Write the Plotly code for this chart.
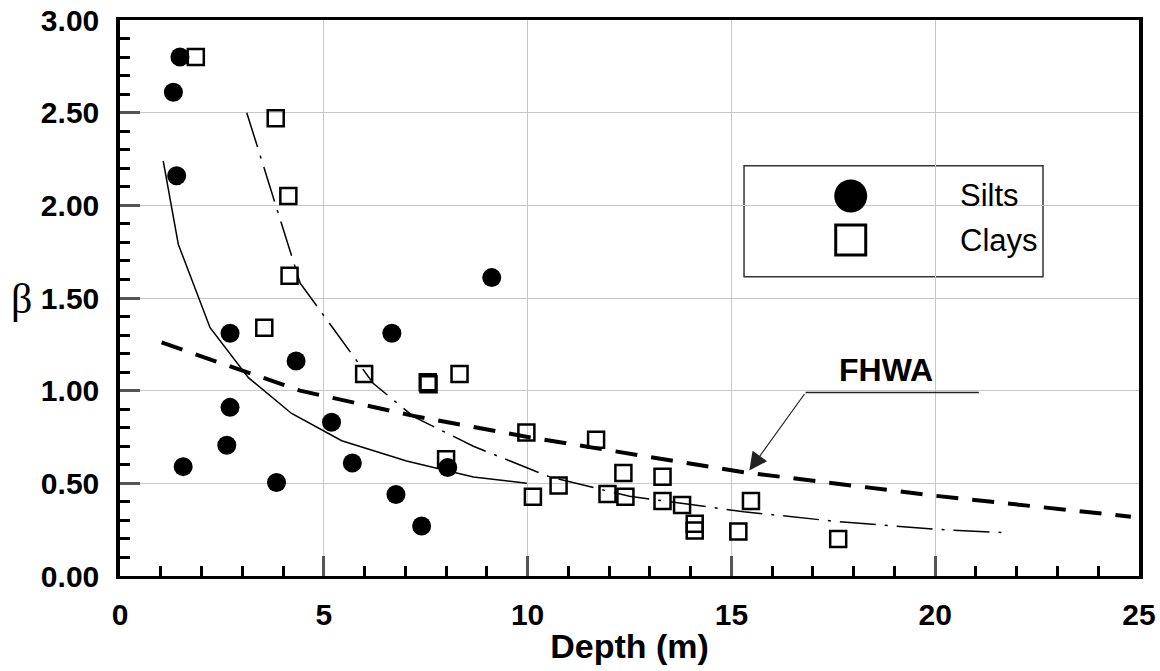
import plotly.graph_objects as go

# ---- data ----
silts_depth = [1.47, 1.31, 1.39, 2.70, 4.32, 6.67, 9.12, 2.70, 5.19, 2.62, 1.55, 5.70, 3.84, 6.77, 8.04, 7.40]
silts_beta = [2.80, 2.61, 2.16, 1.31, 1.16, 1.31, 1.61, 0.91, 0.83, 0.705, 0.59, 0.61, 0.505, 0.44, 0.585, 0.27]

clays_depth = [1.86, 3.82, 4.13, 4.16, 3.54, 5.99, 7.55, 7.57, 8.33, 8.00, 9.97, 10.13, 10.76,
               11.68, 11.96, 12.35, 12.40, 13.31, 13.31, 13.79, 14.10, 14.10, 15.17, 15.48, 17.62]
clays_beta = [2.80, 2.47, 2.05, 1.62, 1.34, 1.09, 1.045, 1.035, 1.09, 0.63, 0.774, 0.428, 0.488,
              0.735, 0.442, 0.556, 0.427, 0.536, 0.405, 0.383, 0.282, 0.245, 0.240, 0.405, 0.20]

silt_fit_depth = [1.06, 1.43, 2.21, 3.15, 4.21, 5.44, 7.03, 8.67, 9.98]
silt_fit_beta = [2.24, 1.79, 1.34, 1.07, 0.877, 0.73, 0.62, 0.534, 0.50]

clay_fit_depth = [3.11, 4.42, 6.21, 7.20, 8.67, 10.55, 12.50, 15.30, 17.50, 20.00, 21.80]
clay_fit_beta = [2.50, 1.58, 1.04, 0.86, 0.70, 0.534, 0.43, 0.347, 0.296, 0.252, 0.233]

fhwa_depth = [1.02, 4.42, 7.20, 10.00, 13.90, 15.30, 20.00, 24.80]
fhwa_beta = [1.26, 1.00, 0.864, 0.75, 0.61, 0.56, 0.433, 0.32]

x_ticks = [0, 5, 10, 15, 20, 25]
y_ticks = [0.0, 0.5, 1.0, 1.5, 2.0, 2.5, 3.0]

FONT = "Liberation Sans"

fig = go.Figure()

fig.add_trace(go.Scatter(x=fhwa_depth, y=fhwa_beta, mode="lines",
                         line=dict(color="black", width=4, dash="22px,14px"),
                         showlegend=False, hoverinfo="skip"))
fig.add_trace(go.Scatter(x=silt_fit_depth, y=silt_fit_beta, mode="lines",
                         line=dict(color="black", width=1.5),
                         showlegend=False, hoverinfo="skip"))
fig.add_trace(go.Scatter(x=clay_fit_depth, y=clay_fit_beta, mode="lines",
                         line=dict(color="black", width=1.5, dash="36px,9px,3px,9px"),
                         showlegend=False, hoverinfo="skip"))
fig.add_trace(go.Scatter(x=clays_depth, y=clays_beta, mode="markers", name="Clays",
                         marker=dict(symbol="square-open", size=16, color="black",
                                     line=dict(width=2.5, color="black")),
                         showlegend=False))
fig.add_trace(go.Scatter(x=silts_depth, y=silts_beta, mode="markers", name="Silts",
                         marker=dict(symbol="circle", size=19, color="black",
                                     line=dict(width=0)),
                         showlegend=False))

# FHWA label, leader line and arrow
fig.add_annotation(x=18.79, y=1.11, xref="x", yref="y", text="<b>FHWA</b>",
                   xanchor="center", yanchor="middle",
                   showarrow=False, font=dict(family=FONT, size=32, color="black"))
fig.add_shape(type="line", xref="x", yref="y", x0=16.82, y0=0.99, x1=21.07, y1=0.99,
              line=dict(color="#222222", width=1.3))
fig.add_annotation(x=15.44, y=0.569, ax=16.82, ay=0.99, xref="x", yref="y",
                   axref="x", ayref="y", text="", showarrow=True, arrowhead=2,
                   arrowsize=3, arrowwidth=1.2, arrowcolor="#222222")

# legend box drawn manually (large symbols as in reference)
fig.add_shape(type="rect", xref="paper", yref="paper", x0=0.6124, x1=0.9058,
              y0=0.5383, y1=0.738, line=dict(color="#333333", width=1.5),
              fillcolor="white", layer="below")
fig.add_shape(type="circle", xref="paper", yref="paper", xsizemode="pixel", ysizemode="pixel",
              xanchor=0.7171, yanchor=0.6835, x0=-16.5, x1=16.5, y0=-16.5, y1=16.5,
              fillcolor="black", line=dict(width=0))
fig.add_shape(type="rect", xref="paper", yref="paper", xsizemode="pixel", ysizemode="pixel",
              xanchor=0.7171, yanchor=0.6043, x0=-15, x1=15, y0=-15, y1=15,
              line=dict(color="black", width=3))
fig.add_annotation(x=0.8224, y=0.6835, xref="paper", yref="paper", text="Silts",
                   xanchor="left", yanchor="middle", showarrow=False,
                   font=dict(family=FONT, size=31, color="black"))
fig.add_annotation(x=0.8224, y=0.6043, xref="paper", yref="paper", text="Clays",
                   xanchor="left", yanchor="middle", showarrow=False,
                   font=dict(family=FONT, size=31, color="black"))

# beta axis label (horizontal, serif)
fig.add_annotation(x=-0.097, y=0.499, xref="paper", yref="paper", text="β",
                   xanchor="center", yanchor="middle", showarrow=False,
                   font=dict(family="Liberation Serif", size=42, color="black"))

fig.update_layout(
    width=1160, height=671,
    margin=dict(l=120, r=21, t=20, b=95, autoexpand=False),
    plot_bgcolor="white", paper_bgcolor="white",
    showlegend=False,
    xaxis=dict(
        range=[0, 25], tickvals=x_ticks, ticktext=[str(v) for v in x_ticks],
        automargin=False,
        showgrid=True, gridcolor="#c8c8c8", gridwidth=1,
        ticks="inside", ticklen=20, tickwidth=3, tickcolor="#555555",
        showline=True, linecolor="black", linewidth=3, mirror=True,
        zeroline=False, ticklabeloverflow="allow",
        tickfont=dict(family=FONT, size=30, color="black", weight="bold"),
        ticklabelstandoff=10,
        minor=dict(dtick=1, ticks="inside", ticklen=10, tickwidth=2.5, tickcolor="black", showgrid=False),
        title=dict(text="<b>Depth (m)</b>", font=dict(family=FONT, size=34, color="black"), standoff=5),
    ),
    yaxis=dict(
        range=[0, 3], tickvals=y_ticks, ticktext=[f"{v:.2f}" for v in y_ticks],
        automargin=False,
        showgrid=True, gridcolor="#c8c8c8", gridwidth=1,
        ticks="inside", ticklen=20, tickwidth=3, tickcolor="#555555",
        showline=True, linecolor="black", linewidth=3.5, mirror=True,
        zeroline=False, ticklabeloverflow="allow",
        tickfont=dict(family=FONT, size=30, color="black", weight="bold"),
        ticklabelstandoff=11,
        minor=dict(dtick=0.1, ticks="inside", ticklen=10, tickwidth=2.5, tickcolor="black", showgrid=False),
    ),
)

fig.write_html("out.html", config={"displayModeBar": False},
               post_script="document.body.style.margin='0';document.body.style.overflow='hidden';")
